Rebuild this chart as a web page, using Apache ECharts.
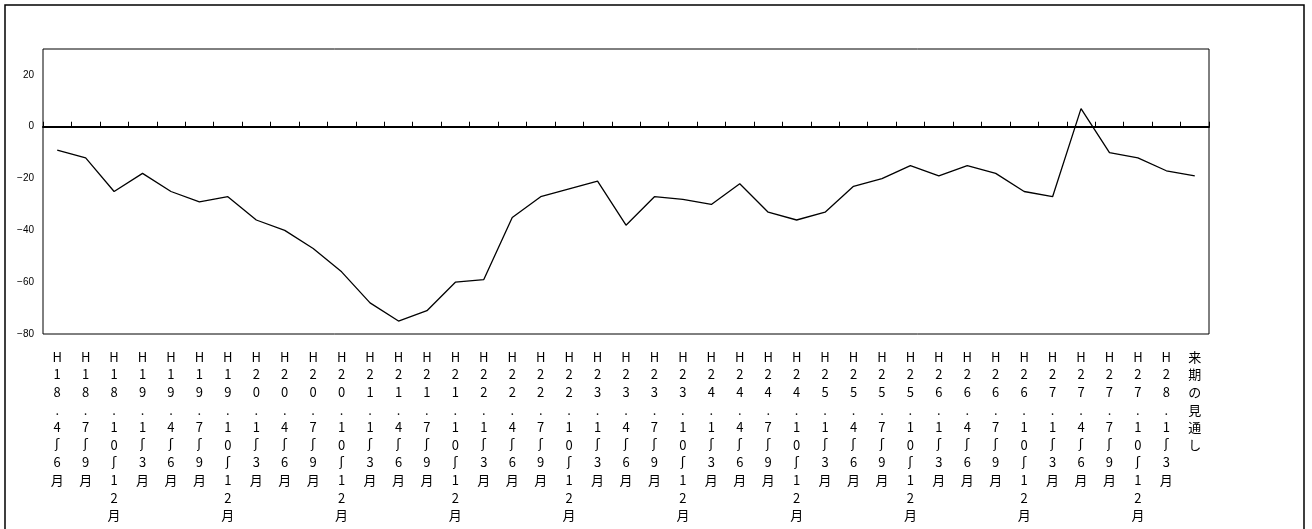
<!DOCTYPE html>
<html>
<head>
<meta charset="utf-8">
<script src="https://cdn.jsdelivr.net/npm/echarts@6/dist/echarts.min.js"></script>
<style>
  html, body { margin: 0; padding: 0; background: #fff; }
  #main { width: 1312px; height: 529px; }
</style>
</head>
<body>
<div id="main"></div>
<script>
var categories = [
  "H18.4～6月", "H18.7～9月", "H18.10～12月",
  "H19.1～3月", "H19.4～6月", "H19.7～9月", "H19.10～12月",
  "H20.1～3月", "H20.4～6月", "H20.7～9月", "H20.10～12月",
  "H21.1～3月", "H21.4～6月", "H21.7～9月", "H21.10～12月",
  "H22.1～3月", "H22.4～6月", "H22.7～9月", "H22.10～12月",
  "H23.1～3月", "H23.4～6月", "H23.7～9月", "H23.10～12月",
  "H24.1～3月", "H24.4～6月", "H24.7～9月", "H24.10～12月",
  "H25.1～3月", "H25.4～6月", "H25.7～9月", "H25.10～12月",
  "H26.1～3月", "H26.4～6月", "H26.7～9月", "H26.10～12月",
  "H27.1～3月", "H27.4～6月", "H27.7～9月", "H27.10～12月",
  "H28.1～3月", "来期の見通し"
];
var values = [
  -9, -12, -25,
  -18, -25, -29, -27,
  -36, -40, -47, -56,
  -68, -75, -71, -60,
  -59, -35, -27, -24,
  -21, -38, -27, -28,
  -30, -22, -33, -36,
  -33, -23, -20, -15,
  -19, -15, -18, -25,
  -27, 7, -10, -12,
  -17, -19
];
var yMin = -80;
var yMax = 30;
var yStep = 20;

var myChart = echarts.init(document.getElementById("main"));

// one character per line, the wave dash drawn upright
function verticalLabel(s) {
  return s.split("").map(function (c) {
    return c === "～" ? "{w|ʃ}" : "{c|" + c + "}";
  }).join("\n");
}

var option = {
  animation: false,
  backgroundColor: "#fff",
  graphic: [{
    type: "rect",
    shape: { x: 5, y: 5, width: 1299, height: 540 },
    style: { fill: "none", stroke: "#000", lineWidth: 1.5 },
    silent: true
  }],
  grid: {
    left: 43,
    top: 49,
    right: 103,
    bottom: 195,
    show: true,
    borderColor: "#000",
    borderWidth: 1
  },
  xAxis: [
    {
      type: "category",
      data: categories,
      position: "bottom",
      axisLine: { show: false, onZero: false },
      axisTick: { show: false },
      axisLabel: {
        interval: 0,
        margin: 14,
        color: "#000",
        verticalAlign: "top",
        formatter: verticalLabel,
        rich: {
          c: { fontSize: 13, lineHeight: 17.6, fontFamily: "Noto Sans CJK JP", color: "#000" },
          w: { fontSize: 13, lineHeight: 17.6, fontFamily: "DejaVu Sans", color: "#000" }
        }
      }
    },
    {
      type: "category",
      data: categories,
      position: "bottom",
      axisLine: { show: true, onZero: true, lineStyle: { color: "#000", width: 2 } },
      axisTick: { show: true, inside: true, length: 5, interval: 0, lineStyle: { color: "#000", width: 1 } },
      axisLabel: { show: false }
    }
  ],
  yAxis: {
    type: "value",
    min: yMin,
    max: yMax,
    interval: yStep,
    splitLine: { show: false },
    axisLine: { show: false },
    axisTick: { show: false },
    axisLabel: {
      showMaxLabel: false,
      margin: 9,
      fontSize: 10,
      color: "#000",
      fontFamily: "Liberation Sans",
      formatter: function (v) {
        return v === yMax ? "" : String(v).replace("-", "−");
      }
    }
  },
  series: [{
    type: "line",
    xAxisIndex: 0,
    data: values,
    symbol: "none",
    lineStyle: { color: "#000", width: 1.3 }
  }]
};
myChart.setOption(option);
</script>
</body>
</html>
